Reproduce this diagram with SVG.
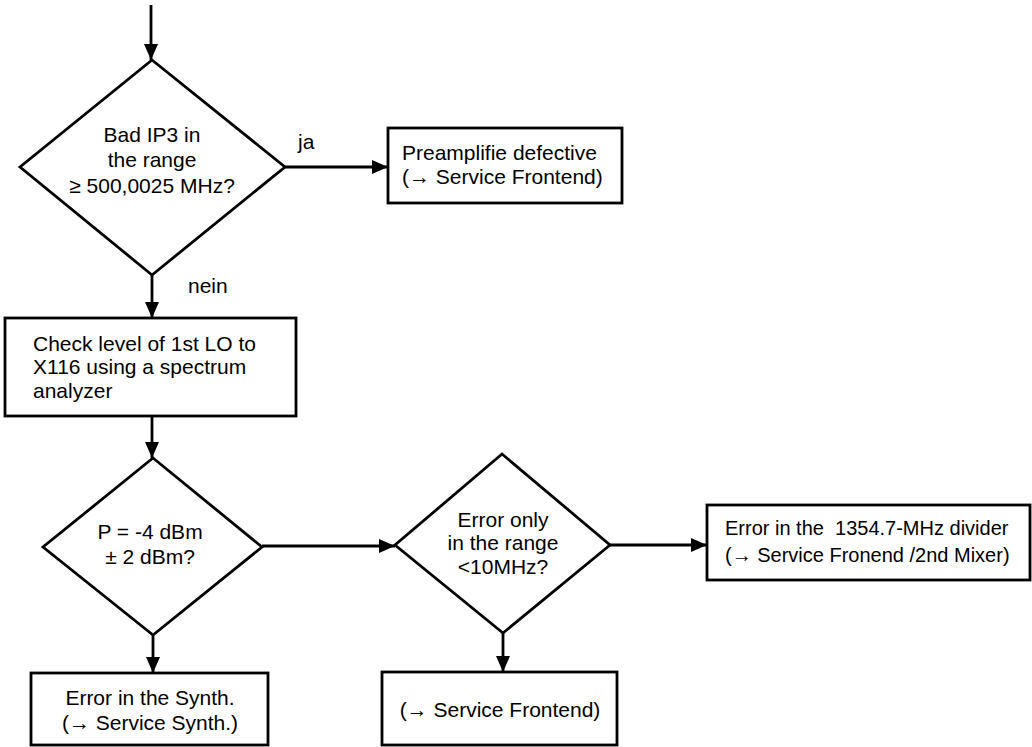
<svg xmlns="http://www.w3.org/2000/svg" width="1032" height="747" viewBox="0 0 1032 747">
<style>
.shape{fill:#fff;stroke:#000;stroke-width:2.8}
.edge{fill:none;stroke:#000;stroke-width:2.8}
text{font-family:"Liberation Sans",Arial,sans-serif;font-size:21px;fill:#000}
.c{text-anchor:middle}
.s{font-size:20px;white-space:pre}
</style>
<defs>
<marker id="ah" markerUnits="userSpaceOnUse" markerWidth="16" markerHeight="14" refX="16" refY="7" orient="auto">
<path d="M0,0 L16,7 L0,14 Z" fill="#000"/>
</marker>
</defs>
<rect width="1032" height="747" fill="#fff"/>
<g id="connectors">
<line class="edge" x1="151" y1="5" x2="151" y2="60" marker-end="url(#ah)"/>
<line class="edge" x1="285" y1="167" x2="388" y2="167" marker-end="url(#ah)"/>
<line class="edge" x1="152" y1="275" x2="152" y2="318" marker-end="url(#ah)"/>
<line class="edge" x1="152" y1="416" x2="152" y2="458" marker-end="url(#ah)"/>
<line class="edge" x1="153" y1="635" x2="153" y2="673" marker-end="url(#ah)"/>
<line class="edge" x1="262" y1="546" x2="395" y2="546" marker-end="url(#ah)"/>
<line class="edge" x1="503" y1="633" x2="503" y2="672" marker-end="url(#ah)"/>
<line class="edge" x1="610" y1="545" x2="707" y2="545" marker-end="url(#ah)"/>
<text x="298" y="149">ja</text>
<text x="188" y="293">nein</text>
</g>
<g id="d1">
<polygon class="shape" points="152,60 285,167 152,275 20,167"/>
<text class="c" x="152" y="142">Bad IP3 in</text>
<text class="c" x="152" y="167">the range</text>
<text class="c" x="152" y="193">≥ 500,0025 MHz?</text>
</g>
<g id="box1">
<rect class="shape" x="388" y="128" width="234" height="75"/>
<text x="402" y="160">Preamplifie defective</text>
<text x="402" y="184">(→ Service Frontend)</text>
</g>
<g id="box2">
<rect class="shape" x="5" y="318" width="291" height="98"/>
<text x="33" y="351">Check level of 1st LO to</text>
<text x="33" y="374">X116 using a spectrum</text>
<text x="33" y="398">analyzer</text>
</g>
<g id="d2">
<polygon class="shape" points="153,458 262,547 153,635 43,547"/>
<text class="c" x="150" y="539">P = -4 dBm</text>
<text class="c" x="150" y="564">± 2 dBm?</text>
</g>
<g id="box3">
<rect class="shape" x="31" y="673" width="237" height="72"/>
<text class="c" x="150" y="705">Error in the Synth.</text>
<text class="c" x="150" y="730">(→ Service Synth.)</text>
</g>
<g id="d3">
<polygon class="shape" points="502,454 610,545 503,633 395,545"/>
<text class="c" x="503" y="527">Error only</text>
<text class="c" x="503" y="550">in the range</text>
<text class="c" x="503" y="574">&lt;10MHz?</text>
</g>
<g id="box4">
<rect class="shape" x="382" y="672" width="235" height="73"/>
<text class="c" x="500" y="717">(→ Service Frontend)</text>
</g>
<g id="box5">
<rect class="shape" x="707" y="505" width="323" height="75"/>
<text class="s" x="725" y="535">Error in the  1354.7-MHz divider</text>
<text class="s" x="725" y="562">(→ Service Fronend /2nd Mixer)</text>
</g>
</svg>
